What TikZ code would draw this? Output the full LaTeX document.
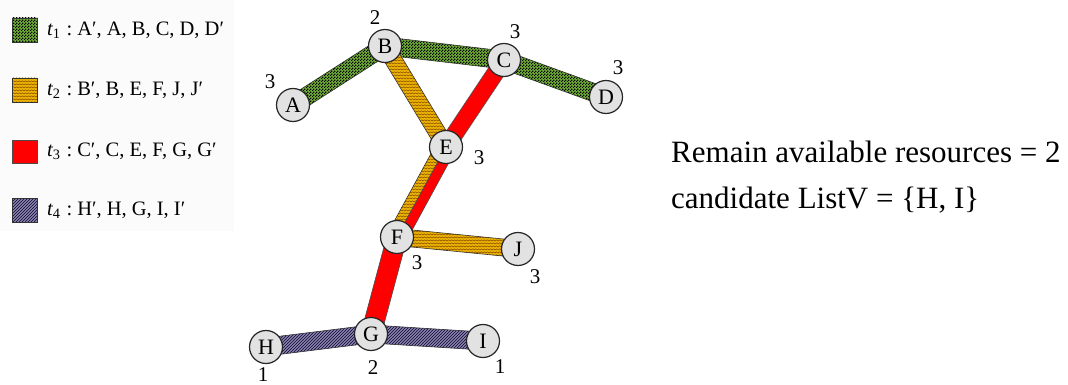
\documentclass[tikz,border=0pt]{standalone}
\usepackage{fontspec}
\setmainfont{Liberation Serif}
\usetikzlibrary{calc,patterns}
\definecolor{lgreen}{HTML}{6FB036}
\definecolor{lyellow}{HTML}{EEB800}
\definecolor{dyellow}{HTML}{9A5A00}
\definecolor{lpurple}{HTML}{A296C8}
\definecolor{dpurple}{HTML}{1E1C40}
\definecolor{nodegray}{HTML}{E2E2E2}
\pgfdeclarepatternformonly{finechecker}{\pgfpointorigin}{\pgfqpoint{3pt}{3pt}}{\pgfqpoint{3pt}{3pt}}{%
  \pgfpathrectangle{\pgfpointorigin}{\pgfqpoint{1.5pt}{1.5pt}}%
  \pgfpathrectangle{\pgfqpoint{1.5pt}{1.5pt}}{\pgfqpoint{1.5pt}{1.5pt}}%
  \pgfusepath{fill}}
\pgfdeclarepatternformonly{scales}{\pgfqpoint{-1pt}{-1pt}}{\pgfqpoint{4pt}{4pt}}{\pgfqpoint{3pt}{3pt}}{%
  \pgfsetlinewidth{0.7pt}%
  \pgfpathmoveto{\pgfqpoint{0pt}{0pt}}%
  \pgfpathcurveto{\pgfqpoint{0.5pt}{1.5pt}}{\pgfqpoint{2.5pt}{1.5pt}}{\pgfqpoint{3pt}{0pt}}%
  \pgfusepath{stroke}}
\pgfdeclarepatternformonly{hatch}{\pgfqpoint{-1pt}{-1pt}}{\pgfqpoint{4pt}{4pt}}{\pgfqpoint{3pt}{3pt}}{%
  \pgfsetlinewidth{0.8pt}%
  \pgfpathmoveto{\pgfqpoint{0pt}{0pt}}%
  \pgfpathlineto{\pgfqpoint{3.1pt}{3.1pt}}%
  \pgfusepath{stroke}}
\newcommand\band[5]{%
  \path[#5] ($(#1)!#3!90:(#2)$) -- ($(#2)!#3!-90:(#1)$) -- ($(#2)!#4!-90:(#1)$) -- ($(#1)!#4!90:(#2)$) -- cycle;}
\tikzset{
  greenband/.style={fill=lgreen, postaction={pattern=finechecker, pattern color=black}, postaction={draw=black!80, line width=0.6pt}},
  yellowband/.style={fill=lyellow, postaction={pattern=scales, pattern color=dyellow}, postaction={draw=black!80, line width=0.6pt}},
  redband/.style={fill=red, draw=black!70, line width=0.6pt},
  purpleband/.style={fill=lpurple, postaction={pattern=hatch, pattern color=dpurple}, postaction={draw=black!80, line width=0.6pt}},
  vertex/.style={circle, draw=black!85, line width=1.2pt, fill=nodegray, minimum size=33pt, inner sep=0pt, font=\fontsize{22}{22}\selectfont},
  num/.style={font=\fontsize{21}{21}\selectfont, inner sep=0pt},
  legtext/.style={anchor=west, font=\fontsize{20.5}{21}\selectfont, inner sep=0pt},
  bigtext/.style={anchor=west, font=\fontsize{31}{32}\selectfont, inner sep=0pt},
}
\begin{document}
\begin{tikzpicture}[x=1pt,y=-1pt]
\useasboundingbox (0,0) rectangle (1068,385);
% legend
\fill[black!1.5] (0,0) rectangle (234,231);
\path[greenband] (12,18) rectangle (37,42);
\path[yellowband] (12,78) rectangle (37,102);
\path[redband] (12,140) rectangle (37,163);
\path[purpleband] (12,198) rectangle (37,222);
\node[legtext] (l1) at (47,30) {{\itshape t}\textsubscript{1}\hspace{6pt}:\hspace{5pt}A′, A, B, C, D, D′};
\node[legtext] (l2) at (47,90) {{\itshape t}\textsubscript{2}\hspace{6pt}:\hspace{5pt}B′, B, E, F, J, J′};
\node[legtext] (l3) at (47,151) {{\itshape t}\textsubscript{3}\hspace{6pt}:\hspace{5pt}C′, C, E, F, G, G′};
\node[legtext] (l4) at (47,210) {{\itshape t}\textsubscript{4}\hspace{6pt}:\hspace{5pt}H′, H, G, I, I′};
% node coordinates
\coordinate (cA) at (293,105);
\coordinate (cB) at (385,46);
\coordinate (cC) at (504,60);
\coordinate (cD) at (606,97);
\coordinate (cE) at (446,147);
\coordinate (cF) at (397,237);
\coordinate (cJ) at (518,249);
\coordinate (cG) at (371,334);
\coordinate (cH) at (266,347);
\coordinate (cI) at (483,341);
% bands
\band{cA}{cB}{9pt}{-9pt}{greenband}
\band{cB}{cC}{9pt}{-9pt}{greenband}
\band{cC}{cD}{9pt}{-9pt}{greenband}
\band{cB}{cE}{8.5pt}{-8.5pt}{yellowband}
\band{cF}{cE}{0pt}{10pt}{yellowband}
\band{cF}{cJ}{8.5pt}{-8.5pt}{yellowband}
\band{cC}{cE}{8.5pt}{-8.5pt}{redband}
\band{cE}{cF}{0pt}{10pt}{redband}
\band{cF}{cG}{10pt}{-10pt}{redband}
\band{cH}{cG}{9pt}{-9pt}{purpleband}
\band{cG}{cI}{9pt}{-9pt}{purpleband}
% vertices
\node[vertex] (A) at (cA) {A};
\node[vertex] (B) at (cB) {B};
\node[vertex] (C) at (cC) {C};
\node[vertex] (D) at (cD) {D};
\node[vertex] (E) at (cE) {E};
\node[vertex] (F) at (cF) {F};
\node[vertex] (J) at (cJ) {J};
\node[vertex] (G) at (cG) {G};
\node[vertex] (H) at (cH) {H};
\node[vertex] (I) at (cI) {I};
% numbers
\node[num] (nA) at (270,82) {3};
\node[num] (nB) at (375,18) {2};
\node[num] (nC) at (515,32) {3};
\node[num] (nD) at (618,68) {3};
\node[num] (nE) at (479,158) {3};
\node[num] (nF) at (417,263) {3};
\node[num] (nJ) at (535,277) {3};
\node[num] (nG) at (373,368) {2};
\node[num] (nH) at (263,375) {1};
\node[num] (nI) at (500,367) {1};
% texts
\node[bigtext] (t1) at (671,152) {Remain available resources = 2};
\node[bigtext] (t2) at (671,200) {candidate ListV = \{H, I\}};
\end{tikzpicture}
\end{document}
